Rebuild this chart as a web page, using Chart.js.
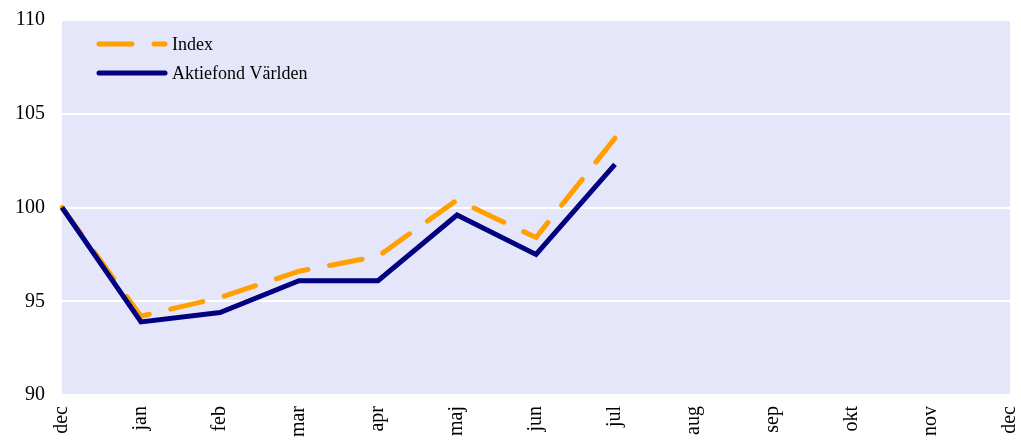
<!DOCTYPE html>
<html>
<head>
<meta charset="utf-8">
<script src="https://cdn.jsdelivr.net/npm/chart.js@4.4.1/dist/chart.umd.min.js"></script>
<style>
  html, body { margin: 0; padding: 0; background: #ffffff; overflow: hidden; }
  #wrap { width: 1021px; height: 444px; position: relative; }
</style>
</head>
<body>
<div id="wrap"><canvas id="c" width="1021" height="444"></canvas></div>
<script>
const months = ['dec', 'jan', 'feb', 'mar', 'apr', 'maj', 'jun', 'jul', 'aug', 'sep', 'okt', 'nov', 'dec'];
const indexValues = [100, 94.2, 95.2, 96.6, 97.4, 100.4, 98.4, 103.7];
const fundValues = [100, 93.9, 94.4, 96.1, 96.1, 99.6, 97.5, 102.3];
const yTicks = [90, 95, 100, 105, 110];

const FONT = '"Liberation Serif", "Times New Roman", serif';

const bgPlugin = {
  id: 'plotBg',
  beforeDraw(chart) {
    const a = chart.chartArea, ctx = chart.ctx;
    ctx.save();
    ctx.fillStyle = '#E6E6FA';
    ctx.fillRect(a.left, a.top, a.right - a.left, a.bottom - a.top);
    ctx.restore();
  }
};

const legendPlugin = {
  id: 'innerLegend',
  afterDatasetsDraw(chart) {
    const a = chart.chartArea, ctx = chart.ctx;
    ctx.save();
    ctx.font = '18px ' + FONT;
    ctx.textBaseline = 'middle';
    chart.data.datasets.forEach((ds, i) => {
      const y = a.top + 24 + i * 29;
      const x0 = a.left + 37, x1 = a.left + 103;
      ctx.beginPath();
      ctx.strokeStyle = ds.borderColor;
      ctx.lineWidth = ds.borderWidth;
      ctx.lineCap = 'round';
      ctx.setLineDash(ds.borderDash || []);
      ctx.moveTo(x0, y);
      ctx.lineTo(x1, y);
      ctx.stroke();
      ctx.setLineDash([]);
      ctx.fillStyle = '#000000';
      ctx.fillText(ds.label, a.left + 110, y + 1);
    });
    ctx.restore();
  }
};

new Chart(document.getElementById('c'), {
  type: 'line',
  data: {
    labels: months,
    datasets: [
      {
        label: 'Index',
        data: indexValues,
        borderColor: '#FFA000',
        borderWidth: 5,
        borderDash: [33, 22],
        borderCapStyle: 'round',
        pointRadius: 0,
        fill: false,
        tension: 0,
        order: 1
      },
      {
        label: 'Aktiefond Världen',
        data: fundValues,
        borderColor: '#000080',
        borderWidth: 5,
        pointRadius: 0,
        fill: false,
        tension: 0,
        order: 0
      }
    ]
  },
  options: {
    responsive: false,
    animation: false,
    layout: { padding: { top: 20, right: 11, left: 0, bottom: 0 } },
    plugins: {
      legend: { display: false },
      tooltip: { enabled: false }
    },
    scales: {
      x: {
        type: 'category',
        offset: false,
        grid: { display: false, drawTicks: false },
        border: { display: false },
        ticks: {
          minRotation: 90,
          maxRotation: 90,
          autoSkip: false,
          padding: 11,
          color: '#000000',
          font: { family: FONT, size: 20 }
        },
        afterFit(scale) {
          scale.height = 49;
          scale.paddingLeft = 0;
          scale.paddingRight = 0;
        }
      },
      y: {
        min: 90,
        max: 110,
        afterBuildTicks(scale) { scale.ticks = yTicks.map(v => ({ value: v })); },
        grid: { color: '#FFFFFF', lineWidth: 2, drawTicks: false },
        border: { display: false },
        ticks: {
          padding: 17,
          color: '#000000',
          font: { family: FONT, size: 20 }
        },
        afterFit(scale) {
          scale.width = 62;
          scale.paddingTop = 0;
          scale.paddingBottom = 0;
        }
      }
    }
  },
  plugins: [bgPlugin, legendPlugin]
});
</script>
</body>
</html>
